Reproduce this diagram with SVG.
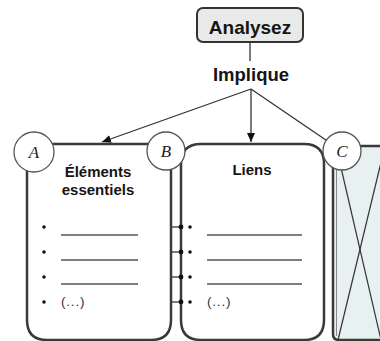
<svg xmlns="http://www.w3.org/2000/svg" width="380" height="341" viewBox="0 0 380 341">
<style>
.t{font-family:"Liberation Sans",Arial,sans-serif;font-weight:bold;fill:#151515;text-anchor:middle}
.box{fill:#fff;stroke:#3a3a3a;stroke-width:2.5}
.circ{fill:#fff;stroke:#555;stroke-width:1.3}
.lt{font-family:"Liberation Serif","DejaVu Serif",serif;font-style:italic;font-size:17px;fill:#222;text-anchor:middle}
.rule{stroke:#555;stroke-width:1.5}
.dot{fill:#111}
.etc{font-family:"Liberation Sans",Arial,sans-serif;font-size:13.5px;letter-spacing:0.8px;fill:#333}
.conn{stroke:#333;stroke-width:1.3;fill:none}
</style>
<defs>
<marker id="arr" markerUnits="userSpaceOnUse" markerWidth="10" markerHeight="8" refX="9" refY="4" orient="auto">
<path d="M0,0 L9,4 L0,8 Z" fill="#111"/>
</marker>
</defs>

<g id="connectors">
<line class="conn" x1="250" y1="42" x2="250" y2="61" stroke="#666"/>
<line class="conn" x1="251" y1="89" x2="102" y2="142" marker-end="url(#arr)"/>
<line class="conn" x1="251" y1="89" x2="251" y2="142" marker-end="url(#arr)"/>
<line class="conn" x1="251" y1="89" x2="342" y2="151"/>
<g stroke="#333" stroke-width="1.3">
<line x1="153" y1="227" x2="181" y2="227"/>
<line x1="153" y1="252" x2="181" y2="252"/>
<line x1="153" y1="277" x2="181" y2="277"/>
<line x1="153" y1="302" x2="181" y2="302"/>
</g>
</g>

<g id="analysez">
<rect x="197" y="8" width="106" height="34" rx="6" fill="#e9e9e9" stroke="#333" stroke-width="2"/>
<text class="t" x="250" y="34" font-size="19">Analysez</text>
</g>

<g id="implique">
<text class="t" x="251" y="81" font-size="18.5">Implique</text>
</g>

<g id="box-c">
<path d="M333,146 L382,146 L382,340 L339,340 Q333,340 333,334 Z" fill="#e7f1f2" stroke="#3a3a3a" stroke-width="2.5"/>
<line x1="336.5" y1="150" x2="336.5" y2="336" stroke="#888" stroke-width="1"/>
<line x1="336" y1="146" x2="381" y2="340" stroke="#333" stroke-width="1.2"/>
<line x1="385" y1="146" x2="338" y2="340" stroke="#333" stroke-width="1.2"/>
</g>

<g id="box-a">
<path class="box" d="M27,144 L171,144 L171,320 Q171,340 151,340 L47,340 Q27,340 27,320 Z"/>
<text class="t" x="98" y="177" font-size="15">Éléments</text>
<text class="t" x="98" y="195" font-size="15">essentiels</text>
<g class="dot">
<circle cx="44" cy="227" r="1.8"/>
<circle cx="44" cy="252" r="1.8"/>
<circle cx="44" cy="277" r="1.8"/>
<circle cx="44" cy="302" r="1.8"/>
</g>
<line class="rule" x1="61" y1="235" x2="138" y2="235"/>
<line class="rule" x1="61" y1="260" x2="138" y2="260"/>
<line class="rule" x1="61" y1="284" x2="138" y2="284"/>
<text class="etc" x="61" y="306">(...)</text>
</g>

<g id="box-liens">
<path class="box" d="M181,164 Q181,144 201,144 L304,144 Q324,144 324,164 L324,320 Q324,340 304,340 L201,340 Q181,340 181,320 Z"/>
<text class="t" x="252" y="175" font-size="15">Liens</text>
<g class="dot">
<circle cx="181" cy="227" r="2.4"/>
<circle cx="181" cy="252" r="2.4"/>
<circle cx="181" cy="277" r="2.4"/>
<circle cx="181" cy="302" r="2.4"/>
<circle cx="190" cy="227" r="1.8"/>
<circle cx="190" cy="252" r="1.8"/>
<circle cx="190" cy="277" r="1.8"/>
<circle cx="190" cy="302" r="1.8"/>
</g>
<line class="rule" x1="207" y1="235" x2="302" y2="235"/>
<line class="rule" x1="207" y1="260" x2="302" y2="260"/>
<line class="rule" x1="207" y1="284" x2="302" y2="284"/>
<text class="etc" x="207" y="306">(...)</text>
</g>

<g id="label-a">
<circle class="circ" cx="34" cy="152" r="20"/>
<text class="lt" x="34" y="158">A</text>
</g>
<g id="label-b">
<circle class="circ" cx="166" cy="151" r="19"/>
<text class="lt" x="166" y="157">B</text>
</g>
<g id="label-c">
<circle class="circ" cx="342" cy="151" r="19" fill="#dcebeb"/>
<text class="lt" x="342" y="157">C</text>
</g>
</svg>
